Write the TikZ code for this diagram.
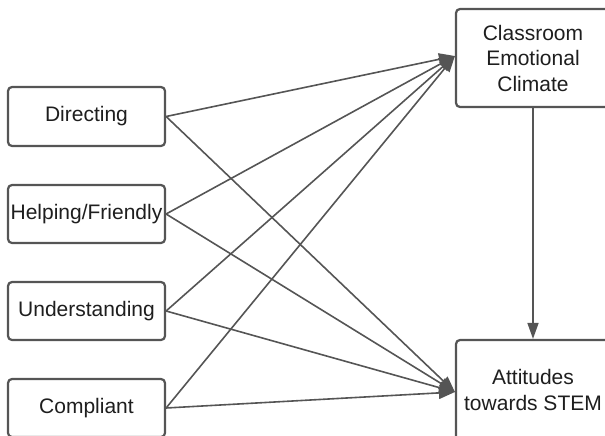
\documentclass[tikz,border=0pt]{standalone}
\usepackage{fontspec}
\setmainfont{Liberation Sans}
\usetikzlibrary{arrows.meta}
\definecolor{edge}{HTML}{555555}
\definecolor{txt}{HTML}{1E1E1E}
\begin{document}
\begin{tikzpicture}[x=1pt,y=-1pt,
  box/.style={draw=edge,line width=2.2pt,rounded corners=4pt,fill=white,
    text=txt,font=\fontsize{21}{25.5}\selectfont,align=center,inner sep=0pt},
  lbox/.style={box,minimum width=157pt,minimum height=58pt},
  rbox/.style={box,minimum width=154pt},
  link/.style={draw=edge,line width=1.6pt,-{Triangle[length=16pt,width=12pt]}}]
\useasboundingbox (0,0) rectangle (605,436);
\clip (0,0) rectangle (605,436);
\node[lbox,minimum height=59pt] (dir) at (86.5,116.5) {Directing};
\node[lbox] (help) at (86.5,214) {Helping/Friendly};
\node[lbox] (und) at (86.5,311) {Understanding};
\node[lbox] (comp) at (86.5,408) {Compliant};
\node[rbox,minimum height=98pt] (cec) at (533,58) {Classroom\\Emotional\\Climate};
\node[rbox,minimum height=100pt] (att) at (533,390) {Attitudes\\towards STEM};
\foreach \s in {dir,help,und,comp}{
  \draw[link] (\s.east) -- ([yshift=2pt]cec.west);
  \draw[link] (\s.east) -- ([yshift=-2pt]att.west);
}
\draw[draw=edge,line width=1.6pt,-{Triangle[length=16pt,width=11pt]}] (cec.south) -- (att.north);
\end{tikzpicture}
\end{document}
